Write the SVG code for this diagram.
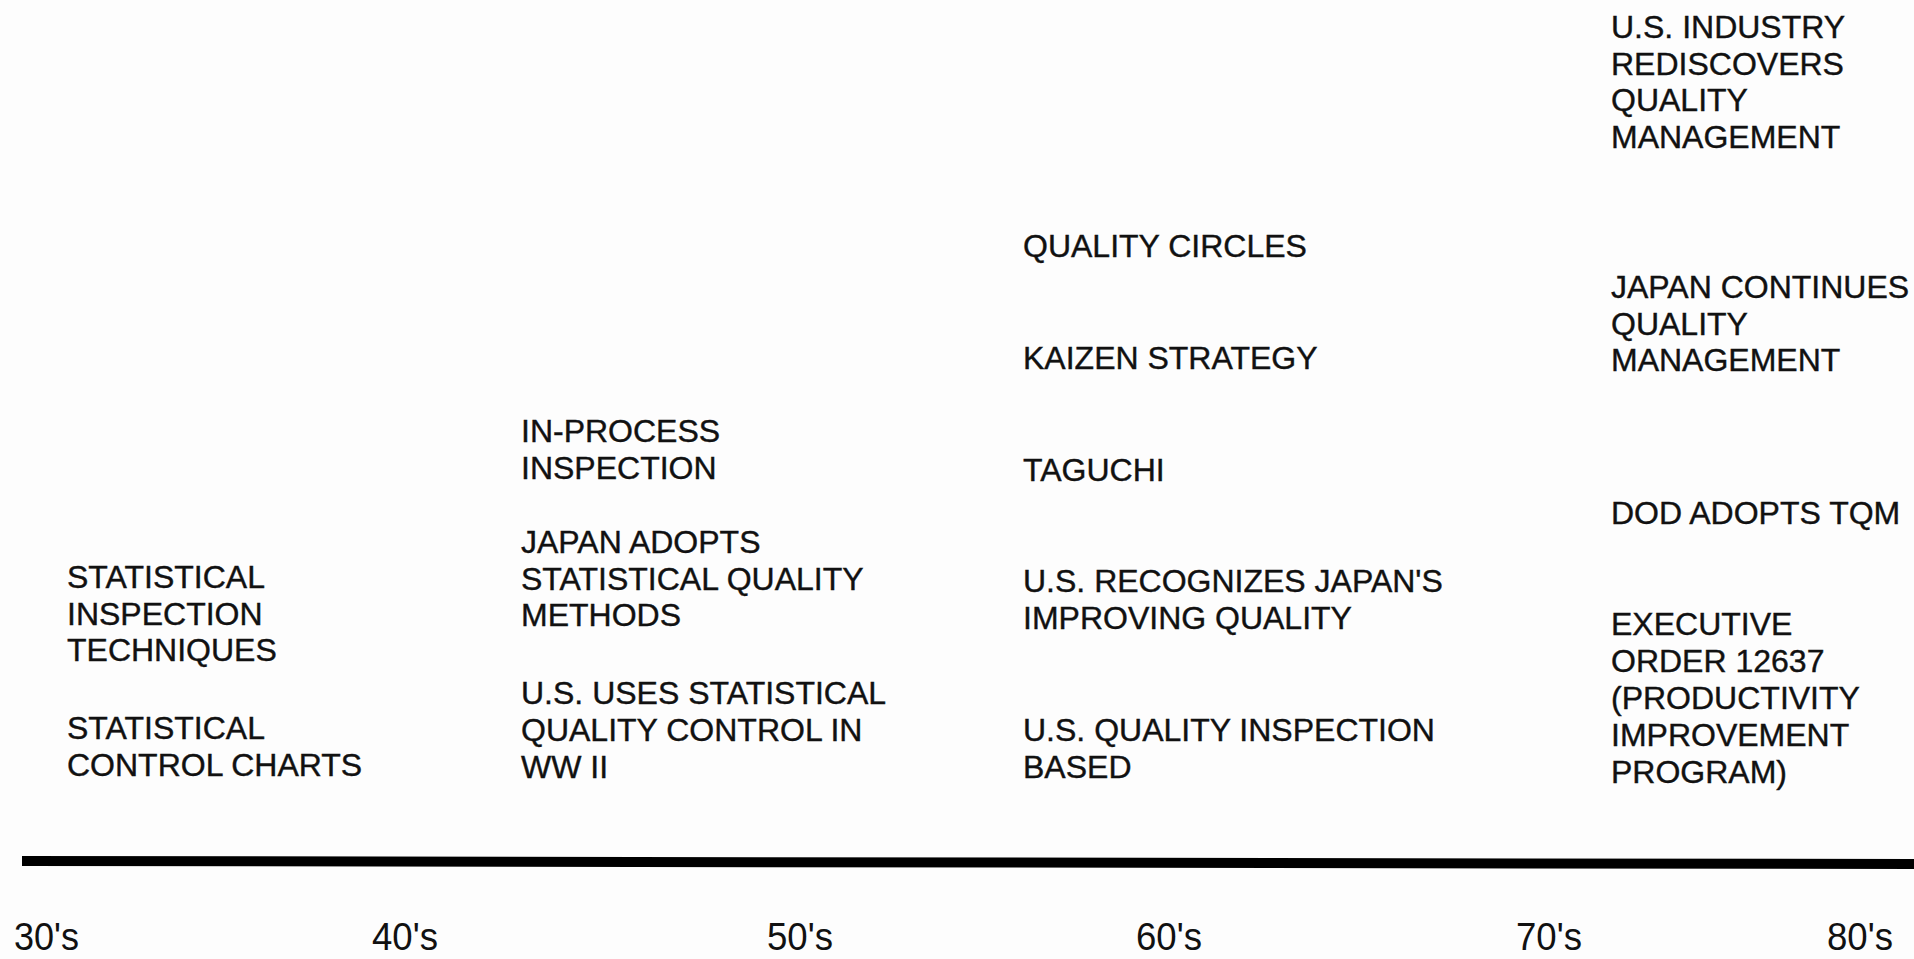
<svg xmlns="http://www.w3.org/2000/svg" width="1914" height="959" viewBox="0 0 1914 959">
<style>
.t{font-family:"Liberation Sans",Arial,Helvetica,sans-serif;font-size:32px;fill:#111;stroke:#111;stroke-width:0.4}
.d{font-family:"Liberation Sans",Arial,Helvetica,sans-serif;font-size:38px;fill:#111}
</style>
<rect x="0" y="0" width="1914" height="959" fill="#fdfdfd"/>
<g id="axis">
<line x1="22" y1="861" x2="1914" y2="864" stroke="#000" stroke-width="10"/>
</g>
<g id="decades">
<text class="d" x="14" y="950" textLength="65" lengthAdjust="spacingAndGlyphs">30's</text>
<text class="d" x="372" y="950" textLength="66" lengthAdjust="spacingAndGlyphs">40's</text>
<text class="d" x="767" y="950" textLength="66" lengthAdjust="spacingAndGlyphs">50's</text>
<text class="d" x="1136" y="950" textLength="66" lengthAdjust="spacingAndGlyphs">60's</text>
<text class="d" x="1516" y="950" textLength="66" lengthAdjust="spacingAndGlyphs">70's</text>
<text class="d" x="1827" y="950" textLength="66" lengthAdjust="spacingAndGlyphs">80's</text>
</g>
<g id="n30a"><text class="t" x="67" y="588">STATISTICAL</text><text class="t" x="67" y="624.5">INSPECTION</text><text class="t" x="67" y="661">TECHNIQUES</text></g>
<g id="n30b"><text class="t" x="67" y="739">STATISTICAL</text><text class="t" x="67" y="775.5">CONTROL CHARTS</text></g>
<g id="n40a"><text class="t" x="521" y="442">IN-PROCESS</text><text class="t" x="521" y="478.5">INSPECTION</text></g>
<g id="n40b"><text class="t" x="521" y="553">JAPAN ADOPTS</text><text class="t" x="521" y="589.5">STATISTICAL QUALITY</text><text class="t" x="521" y="626">METHODS</text></g>
<g id="n40c"><text class="t" x="521" y="704">U.S. USES STATISTICAL</text><text class="t" x="521" y="741">QUALITY CONTROL IN</text><text class="t" x="521" y="778">WW II</text></g>
<g id="n60a"><text class="t" x="1023" y="257">QUALITY CIRCLES</text></g>
<g id="n60b"><text class="t" x="1023" y="369">KAIZEN STRATEGY</text></g>
<g id="n60c"><text class="t" x="1023" y="481">TAGUCHI</text></g>
<g id="n60d"><text class="t" x="1023" y="592">U.S. RECOGNIZES JAPAN'S</text><text class="t" x="1023" y="628.5">IMPROVING QUALITY</text></g>
<g id="n60e"><text class="t" x="1023" y="741">U.S. QUALITY INSPECTION</text><text class="t" x="1023" y="777.5">BASED</text></g>
<g id="n80a"><text class="t" x="1611" y="38">U.S. INDUSTRY</text><text class="t" x="1611" y="74.5">REDISCOVERS</text><text class="t" x="1611" y="111">QUALITY</text><text class="t" x="1611" y="147.5">MANAGEMENT</text></g>
<g id="n80b"><text class="t" x="1611" y="298">JAPAN CONTINUES</text><text class="t" x="1611" y="334.5">QUALITY</text><text class="t" x="1611" y="371">MANAGEMENT</text></g>
<g id="n80c"><text class="t" x="1611" y="524">DOD ADOPTS TQM</text></g>
<g id="n80d"><text class="t" x="1611" y="635">EXECUTIVE</text><text class="t" x="1611" y="672">ORDER 12637</text><text class="t" x="1611" y="709">(PRODUCTIVITY</text><text class="t" x="1611" y="746">IMPROVEMENT</text><text class="t" x="1611" y="783">PROGRAM)</text></g>
</svg>
